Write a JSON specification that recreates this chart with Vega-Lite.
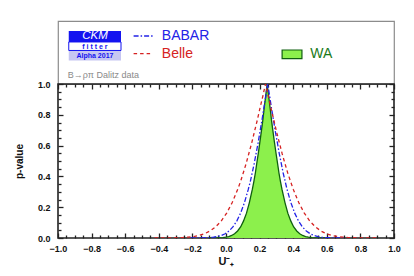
{
  "$schema": "https://vega.github.io/schema/vega-lite/v6.json",
  "padding": {"left": 13, "top": 20, "right": 5, "bottom": 5},
  "background": "white",
  "config": {"font": "Liberation Sans"},
  "spacing": 0,
  "bounds": "flush",
  "datasets": {
    "curves": [
      {"series": "WA", "u": -0.107, "p": 0.0001}, {"series": "WA", "u": -0.063, "p": 0.0005}, {"series": "WA", "u": -0.019, "p": 0.0027}, {"series": "WA", "u": -0.001, "p": 0.0051}, {"series": "WA", "u": 0.016, "p": 0.0093}, {"series": "WA", "u": 0.034, "p": 0.0164}, {"series": "WA", "u": 0.051, "p": 0.0278}, {"series": "WA", "u": 0.069, "p": 0.0455}, {"series": "WA", "u": 0.087, "p": 0.0719}, {"series": "WA", "u": 0.104, "p": 0.1096}, {"series": "WA", "u": 0.122, "p": 0.1615}, {"series": "WA", "u": 0.139, "p": 0.2301}, {"series": "WA", "u": 0.157, "p": 0.3173}, {"series": "WA", "u": 0.166, "p": 0.3681}, {"series": "WA", "u": 0.175, "p": 0.4237}, {"series": "WA", "u": 0.183, "p": 0.4839}, {"series": "WA", "u": 0.192, "p": 0.5485}, {"series": "WA", "u": 0.201, "p": 0.6171}, {"series": "WA", "u": 0.21, "p": 0.6892}, {"series": "WA", "u": 0.219, "p": 0.7642}, {"series": "WA", "u": 0.227, "p": 0.8415}, {"series": "WA", "u": 0.236, "p": 0.9203}, {"series": "WA", "u": 0.245, "p": 1.0}, {"series": "WA", "u": 0.254, "p": 0.9203}, {"series": "WA", "u": 0.263, "p": 0.8415}, {"series": "WA", "u": 0.271, "p": 0.7642}, {"series": "WA", "u": 0.28, "p": 0.6892}, {"series": "WA", "u": 0.289, "p": 0.6171}, {"series": "WA", "u": 0.298, "p": 0.5485}, {"series": "WA", "u": 0.307, "p": 0.4839}, {"series": "WA", "u": 0.315, "p": 0.4237}, {"series": "WA", "u": 0.324, "p": 0.3681}, {"series": "WA", "u": 0.333, "p": 0.3173}, {"series": "WA", "u": 0.351, "p": 0.2301}, {"series": "WA", "u": 0.368, "p": 0.1615}, {"series": "WA", "u": 0.386, "p": 0.1096}, {"series": "WA", "u": 0.403, "p": 0.0719}, {"series": "WA", "u": 0.421, "p": 0.0455}, {"series": "WA", "u": 0.439, "p": 0.0278}, {"series": "WA", "u": 0.456, "p": 0.0164}, {"series": "WA", "u": 0.474, "p": 0.0093}, {"series": "WA", "u": 0.491, "p": 0.0051}, {"series": "WA", "u": 0.509, "p": 0.0027}, {"series": "WA", "u": 0.553, "p": 0.0005}, {"series": "WA", "u": 0.597, "p": 0.0001},
      {"series": "BABAR", "u": -0.212, "p": 0.0001}, {"series": "BABAR", "u": -0.155, "p": 0.0005}, {"series": "BABAR", "u": -0.097, "p": 0.0027}, {"series": "BABAR", "u": -0.074, "p": 0.0051}, {"series": "BABAR", "u": -0.051, "p": 0.0093}, {"series": "BABAR", "u": -0.028, "p": 0.0164}, {"series": "BABAR", "u": -0.005, "p": 0.0278}, {"series": "BABAR", "u": 0.018, "p": 0.0455}, {"series": "BABAR", "u": 0.041, "p": 0.0719}, {"series": "BABAR", "u": 0.064, "p": 0.1096}, {"series": "BABAR", "u": 0.087, "p": 0.1615}, {"series": "BABAR", "u": 0.11, "p": 0.2301}, {"series": "BABAR", "u": 0.133, "p": 0.3173}, {"series": "BABAR", "u": 0.145, "p": 0.3681}, {"series": "BABAR", "u": 0.156, "p": 0.4237}, {"series": "BABAR", "u": 0.168, "p": 0.4839}, {"series": "BABAR", "u": 0.179, "p": 0.5485}, {"series": "BABAR", "u": 0.191, "p": 0.6171}, {"series": "BABAR", "u": 0.202, "p": 0.6892}, {"series": "BABAR", "u": 0.214, "p": 0.7642}, {"series": "BABAR", "u": 0.225, "p": 0.8415}, {"series": "BABAR", "u": 0.237, "p": 0.9203}, {"series": "BABAR", "u": 0.248, "p": 1.0}, {"series": "BABAR", "u": 0.26, "p": 0.9203}, {"series": "BABAR", "u": 0.271, "p": 0.8415}, {"series": "BABAR", "u": 0.283, "p": 0.7642}, {"series": "BABAR", "u": 0.294, "p": 0.6892}, {"series": "BABAR", "u": 0.306, "p": 0.6171}, {"series": "BABAR", "u": 0.317, "p": 0.5485}, {"series": "BABAR", "u": 0.329, "p": 0.4839}, {"series": "BABAR", "u": 0.34, "p": 0.4237}, {"series": "BABAR", "u": 0.352, "p": 0.3681}, {"series": "BABAR", "u": 0.363, "p": 0.3173}, {"series": "BABAR", "u": 0.386, "p": 0.2301}, {"series": "BABAR", "u": 0.409, "p": 0.1615}, {"series": "BABAR", "u": 0.432, "p": 0.1096}, {"series": "BABAR", "u": 0.455, "p": 0.0719}, {"series": "BABAR", "u": 0.478, "p": 0.0455}, {"series": "BABAR", "u": 0.501, "p": 0.0278}, {"series": "BABAR", "u": 0.524, "p": 0.0164}, {"series": "BABAR", "u": 0.547, "p": 0.0093}, {"series": "BABAR", "u": 0.57, "p": 0.0051}, {"series": "BABAR", "u": 0.593, "p": 0.0027}, {"series": "BABAR", "u": 0.651, "p": 0.0005}, {"series": "BABAR", "u": 0.708, "p": 0.0001},
      {"series": "Belle", "u": -0.425, "p": 0.0001}, {"series": "Belle", "u": -0.343, "p": 0.0005}, {"series": "Belle", "u": -0.26, "p": 0.0027}, {"series": "Belle", "u": -0.227, "p": 0.0051}, {"series": "Belle", "u": -0.194, "p": 0.0093}, {"series": "Belle", "u": -0.161, "p": 0.0164}, {"series": "Belle", "u": -0.128, "p": 0.0278}, {"series": "Belle", "u": -0.095, "p": 0.0455}, {"series": "Belle", "u": -0.062, "p": 0.0719}, {"series": "Belle", "u": -0.029, "p": 0.1096}, {"series": "Belle", "u": 0.004, "p": 0.1615}, {"series": "Belle", "u": 0.037, "p": 0.2301}, {"series": "Belle", "u": 0.07, "p": 0.3173}, {"series": "Belle", "u": 0.087, "p": 0.3681}, {"series": "Belle", "u": 0.103, "p": 0.4237}, {"series": "Belle", "u": 0.12, "p": 0.4839}, {"series": "Belle", "u": 0.136, "p": 0.5485}, {"series": "Belle", "u": 0.153, "p": 0.6171}, {"series": "Belle", "u": 0.169, "p": 0.6892}, {"series": "Belle", "u": 0.186, "p": 0.7642}, {"series": "Belle", "u": 0.202, "p": 0.8415}, {"series": "Belle", "u": 0.219, "p": 0.9203}, {"series": "Belle", "u": 0.235, "p": 1.0}, {"series": "Belle", "u": 0.252, "p": 0.9203}, {"series": "Belle", "u": 0.268, "p": 0.8415}, {"series": "Belle", "u": 0.285, "p": 0.7642}, {"series": "Belle", "u": 0.301, "p": 0.6892}, {"series": "Belle", "u": 0.318, "p": 0.6171}, {"series": "Belle", "u": 0.334, "p": 0.5485}, {"series": "Belle", "u": 0.351, "p": 0.4839}, {"series": "Belle", "u": 0.367, "p": 0.4237}, {"series": "Belle", "u": 0.384, "p": 0.3681}, {"series": "Belle", "u": 0.4, "p": 0.3173}, {"series": "Belle", "u": 0.433, "p": 0.2301}, {"series": "Belle", "u": 0.466, "p": 0.1615}, {"series": "Belle", "u": 0.499, "p": 0.1096}, {"series": "Belle", "u": 0.532, "p": 0.0719}, {"series": "Belle", "u": 0.565, "p": 0.0455}, {"series": "Belle", "u": 0.598, "p": 0.0278}, {"series": "Belle", "u": 0.631, "p": 0.0164}, {"series": "Belle", "u": 0.664, "p": 0.0093}, {"series": "Belle", "u": 0.697, "p": 0.0051}, {"series": "Belle", "u": 0.73, "p": 0.0027}, {"series": "Belle", "u": 0.813, "p": 0.0005}, {"series": "Belle", "u": 0.895, "p": 0.0001}
    ]
  },
  "vconcat": [
    {
      "width": 336,
      "height": 63,
      "data": {"values": [{}]},
      "view": {"stroke": "#8c8c8c", "strokeWidth": 1.2},
      "layer": [
        {"mark": {"type": "rect", "fill": "#1414f0"},
         "encoding": {"x": {"datum": 0.032, "type": "quantitative", "scale": {"domain": [0, 1]}, "axis": null}, "x2": {"datum": 0.1875},
                      "y": {"datum": 0.841, "type": "quantitative", "scale": {"domain": [0, 1]}, "axis": null}, "y2": {"datum": 0.667}}},
        {"mark": {"type": "rect", "fill": "white", "stroke": "#1414f0", "strokeWidth": 1},
         "encoding": {"x": {"datum": 0.032, "type": "quantitative", "scale": {"domain": [0, 1]}, "axis": null}, "x2": {"datum": 0.1875},
                      "y": {"datum": 0.667, "type": "quantitative", "scale": {"domain": [0, 1]}, "axis": null}, "y2": {"datum": 0.532}}},
        {"mark": {"type": "rect", "fill": "#c6c6f2"},
         "encoding": {"x": {"datum": 0.032, "type": "quantitative", "scale": {"domain": [0, 1]}, "axis": null}, "x2": {"datum": 0.1875},
                      "y": {"datum": 0.524, "type": "quantitative", "scale": {"domain": [0, 1]}, "axis": null}, "y2": {"datum": 0.373}}},
        {"mark": {"type": "text", "text": "CKM", "color": "white", "fontStyle": "italic", "fontSize": 11.5, "align": "center", "baseline": "middle"},
         "encoding": {"x": {"datum": 0.11, "type": "quantitative", "scale": {"domain": [0, 1]}, "axis": null},
                      "y": {"datum": 0.765, "type": "quantitative", "scale": {"domain": [0, 1]}, "axis": null}}},
        {"mark": {"type": "text", "text": "f i t t e r", "color": "#1414f0", "fontWeight": "bold", "fontSize": 7, "align": "center", "baseline": "middle"},
         "encoding": {"x": {"datum": 0.11, "type": "quantitative", "scale": {"domain": [0, 1]}, "axis": null},
                      "y": {"datum": 0.59, "type": "quantitative", "scale": {"domain": [0, 1]}, "axis": null}}},
        {"mark": {"type": "text", "text": "Alpha 2017", "color": "#1414f0", "fontSize": 7, "fontWeight": "bold", "align": "center", "baseline": "middle"},
         "encoding": {"x": {"datum": 0.11, "type": "quantitative", "scale": {"domain": [0, 1]}, "axis": null},
                      "y": {"datum": 0.445, "type": "quantitative", "scale": {"domain": [0, 1]}, "axis": null}}},
        {"mark": {"type": "rule", "color": "#2222e6", "strokeWidth": 1.3, "strokeDash": [5, 2, 1.5, 2]},
         "encoding": {"x": {"datum": 0.225, "type": "quantitative", "scale": {"domain": [0, 1]}, "axis": null}, "x2": {"datum": 0.282},
                      "y": {"datum": 0.762, "type": "quantitative", "scale": {"domain": [0, 1]}, "axis": null}}},
        {"mark": {"type": "rule", "color": "#d62222", "strokeWidth": 1.3, "strokeDash": [3.5, 3]},
         "encoding": {"x": {"datum": 0.225, "type": "quantitative", "scale": {"domain": [0, 1]}, "axis": null}, "x2": {"datum": 0.282},
                      "y": {"datum": 0.481, "type": "quantitative", "scale": {"domain": [0, 1]}, "axis": null}}},
        {"mark": {"type": "text", "text": "BABAR", "color": "#2222e6", "fontSize": 14, "align": "left", "baseline": "middle"},
         "encoding": {"x": {"datum": 0.309, "type": "quantitative", "scale": {"domain": [0, 1]}, "axis": null},
                      "y": {"datum": 0.762, "type": "quantitative", "scale": {"domain": [0, 1]}, "axis": null}}},
        {"mark": {"type": "text", "text": "Belle", "color": "#d62222", "fontSize": 14, "align": "left", "baseline": "middle"},
         "encoding": {"x": {"datum": 0.309, "type": "quantitative", "scale": {"domain": [0, 1]}, "axis": null},
                      "y": {"datum": 0.481, "type": "quantitative", "scale": {"domain": [0, 1]}, "axis": null}}},
        {"mark": {"type": "rect", "fill": "#8cf04c", "stroke": "#0f5f0f", "strokeWidth": 1.2},
         "encoding": {"x": {"datum": 0.667, "type": "quantitative", "scale": {"domain": [0, 1]}, "axis": null}, "x2": {"datum": 0.726},
                      "y": {"datum": 0.54, "type": "quantitative", "scale": {"domain": [0, 1]}, "axis": null}, "y2": {"datum": 0.402}}},
        {"mark": {"type": "text", "text": "WA", "color": "#1a7a1a", "fontSize": 14, "align": "left", "baseline": "middle"},
         "encoding": {"x": {"datum": 0.751, "type": "quantitative", "scale": {"domain": [0, 1]}, "axis": null},
                      "y": {"datum": 0.476, "type": "quantitative", "scale": {"domain": [0, 1]}, "axis": null}}},
        {"mark": {"type": "text", "text": "B→ρπ Dalitz data", "color": "#8a8a8a", "fontSize": 9, "align": "left", "baseline": "middle"},
         "encoding": {"x": {"datum": 0.029, "type": "quantitative", "scale": {"domain": [0, 1]}, "axis": null},
                      "y": {"datum": 0.143, "type": "quantitative", "scale": {"domain": [0, 1]}, "axis": null}}}
      ]
    },
    {
      "width": 336,
      "height": 154,
      "data": {"name": "curves"},
      "view": {"stroke": "#222222", "strokeWidth": 1.6},
      "resolve": {"axis": {"x": "independent", "y": "independent"}},
      "layer": [
        {
          "transform": [{"filter": "datum.series === 'WA'"}],
          "mark": {"type": "area", "color": "#8cf04c", "opacity": 1, "clip": true, "line": {"color": "#0f5f0f", "strokeWidth": 1.3}},
          "encoding": {
            "x": {"field": "u", "type": "quantitative", "scale": {"domain": [-1, 1], "nice": false},
              "axis": {"orient": "bottom",
                "values": [-1,-0.95,-0.9,-0.85,-0.8,-0.75,-0.7,-0.65,-0.6,-0.55,-0.5,-0.45,-0.4,-0.35,-0.3,-0.25,-0.2,-0.15,-0.1,-0.05,0,0.05,0.1,0.15,0.2,0.25,0.3,0.35,0.4,0.45,0.5,0.55,0.6,0.65,0.7,0.75,0.8,0.85,0.9,0.95,1],
                "format": ".1f",
                "labelExpr": "abs(round(datum.value*20)) % 4 === 0 ? datum.label : ''",
                "tickSize": {"condition": {"test": "abs(round(datum.value*20)) % 4 === 0", "value": -5}, "value": -3},
                "domain": false, "grid": false, "tickColor": "#222222", "tickWidth": 1.3,
                "labelFontWeight": "bold", "labelFontSize": 9, "labelColor": "#111111", "labelPadding": 11,
                "labelFlush": false, "labelOverlap": false, "labelBound": false,
                "title": "U⁻₊", "titleFontSize": 11, "titleFontWeight": "bold", "titleColor": "#111111", "titlePadding": 0}},
            "y": {"field": "p", "type": "quantitative", "scale": {"domain": [0, 1], "nice": false},
              "axis": {"orient": "left",
                "values": [0,0.05,0.1,0.15,0.2,0.25,0.3,0.35,0.4,0.45,0.5,0.55,0.6,0.65,0.7,0.75,0.8,0.85,0.9,0.95,1],
                "format": ".1f",
                "labelExpr": "abs(round(datum.value*20)) % 4 === 0 ? datum.label : ''",
                "tickSize": {"condition": {"test": "abs(round(datum.value*20)) % 4 === 0", "value": -5}, "value": -3},
                "domain": false, "grid": false, "tickColor": "#222222", "tickWidth": 1.3,
                "labelFontWeight": "bold", "labelFontSize": 9, "labelColor": "#111111", "labelPadding": 13,
                "labelFlush": false, "labelOverlap": false, "labelBound": false,
                "title": "p-value", "titleFontSize": 10, "titleFontWeight": "bold", "titleColor": "#111111", "titlePadding": 13}}
          }
        },
        {
          "transform": [{"filter": "datum.series === 'BABAR'"}],
          "mark": {"type": "line", "color": "#2222e6", "strokeWidth": 1.3, "strokeDash": [5, 2, 1.5, 2], "clip": true},
          "encoding": {
            "x": {"field": "u", "type": "quantitative", "scale": {"domain": [-1, 1], "nice": false},
              "axis": {"orient": "top",
                "values": [-1,-0.95,-0.9,-0.85,-0.8,-0.75,-0.7,-0.65,-0.6,-0.55,-0.5,-0.45,-0.4,-0.35,-0.3,-0.25,-0.2,-0.15,-0.1,-0.05,0,0.05,0.1,0.15,0.2,0.25,0.3,0.35,0.4,0.45,0.5,0.55,0.6,0.65,0.7,0.75,0.8,0.85,0.9,0.95,1],
                "labels": false, "title": null,
                "tickSize": {"condition": {"test": "abs(round(datum.value*20)) % 4 === 0", "value": -5}, "value": -3},
                "domain": false, "grid": false, "tickColor": "#222222", "tickWidth": 1.3}},
            "y": {"field": "p", "type": "quantitative", "scale": {"domain": [0, 1], "nice": false},
              "axis": {"orient": "right",
                "values": [0,0.05,0.1,0.15,0.2,0.25,0.3,0.35,0.4,0.45,0.5,0.55,0.6,0.65,0.7,0.75,0.8,0.85,0.9,0.95,1],
                "labels": false, "title": null,
                "tickSize": {"condition": {"test": "abs(round(datum.value*20)) % 4 === 0", "value": -5}, "value": -3},
                "domain": false, "grid": false, "tickColor": "#222222", "tickWidth": 1.3}}
          }
        },
        {
          "transform": [{"filter": "datum.series === 'Belle'"}],
          "mark": {"type": "line", "color": "#d62222", "strokeWidth": 1.3, "strokeDash": [3.5, 3], "clip": true},
          "encoding": {
            "x": {"field": "u", "type": "quantitative", "scale": {"domain": [-1, 1], "nice": false}, "axis": null},
            "y": {"field": "p", "type": "quantitative", "scale": {"domain": [0, 1], "nice": false}, "axis": null}
          }
        }
      ]
    }
  ]
}
